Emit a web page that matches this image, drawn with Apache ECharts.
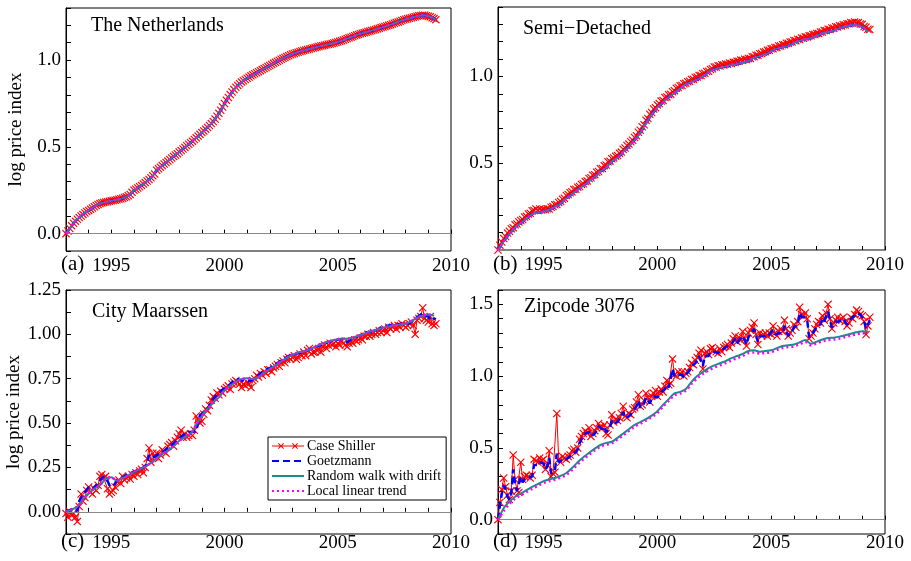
<!DOCTYPE html>
<html>
<head>
<meta charset="utf-8">
<script src="https://cdn.jsdelivr.net/npm/echarts@6/dist/echarts.min.js"></script>
<style>
html, body { margin: 0; padding: 0; background: #fff; }
#chart { width: 911px; height: 561px; }
</style>
</head>
<body>
<div id="chart"></div>
<script>
// monthly series start Jan 1993, quarterly ones too
var startYear = 1993;

// (a) The Netherlands - all four estimates coincide
var aCs = [
  0.000,0.015,0.030,0.045,0.060,0.072,0.083,0.093,0.102,0.111,0.119,0.127,
  0.134,0.141,0.148,0.155,0.162,0.168,0.173,0.177,0.180,0.182,0.184,0.187,
  0.189,0.191,0.193,0.195,0.198,0.201,0.204,0.208,0.212,0.218,0.226,0.238,
  0.250,0.256,0.263,0.270,0.278,0.286,0.294,0.303,0.312,0.322,0.333,0.344,
  0.365,0.374,0.383,0.392,0.401,0.410,0.418,0.427,0.436,0.445,0.453,0.461,
  0.470,0.479,0.488,0.497,0.506,0.515,0.524,0.533,0.542,0.552,0.562,0.572,
  0.582,0.592,0.602,0.612,0.623,0.634,0.646,0.660,0.676,0.693,0.711,0.730,
  0.750,0.768,0.785,0.801,0.816,0.830,0.843,0.854,0.864,0.873,0.881,0.888,
  0.895,0.902,0.909,0.915,0.921,0.927,0.933,0.939,0.945,0.951,0.957,0.963,
  0.969,0.975,0.981,0.987,0.993,0.999,1.005,1.010,1.015,1.020,1.025,1.030,
  1.035,1.038,1.042,1.045,1.049,1.052,1.055,1.058,1.061,1.064,1.067,1.070,
  1.073,1.076,1.078,1.081,1.083,1.086,1.088,1.091,1.093,1.096,1.098,1.101,
  1.104,1.108,1.112,1.116,1.120,1.124,1.128,1.132,1.136,1.140,1.144,1.148,
  1.152,1.155,1.158,1.161,1.164,1.167,1.170,1.173,1.176,1.180,1.184,1.187,
  1.190,1.193,1.197,1.200,1.204,1.208,1.212,1.216,1.220,1.224,1.228,1.232,
  1.235,1.238,1.241,1.244,1.247,1.250,1.253,1.255,1.257,1.258,1.258,1.256,
  1.253,1.249,1.244,1.239,1.233
];

// (b) Semi-Detached
var bCs = [
  0.000,0.028,0.046,0.066,0.078,0.098,0.108,0.122,0.128,0.145,0.150,0.162,
  0.170,0.176,0.190,0.194,0.208,0.212,0.226,0.228,0.236,0.228,0.236,0.230,
  0.234,0.232,0.238,0.236,0.246,0.250,0.260,0.262,0.274,0.280,0.292,0.298,
  0.314,0.320,0.330,0.335,0.348,0.350,0.362,0.366,0.378,0.382,0.394,0.398,
  0.412,0.416,0.430,0.434,0.448,0.452,0.468,0.470,0.486,0.490,0.508,0.512,
  0.526,0.530,0.540,0.544,0.558,0.564,0.580,0.588,0.602,0.610,0.624,0.632,
  0.648,0.658,0.678,0.690,0.710,0.722,0.748,0.758,0.782,0.792,0.812,0.820,
  0.836,0.844,0.858,0.862,0.878,0.882,0.894,0.898,0.912,0.918,0.932,0.936,
  0.946,0.948,0.958,0.960,0.970,0.972,0.982,0.984,0.994,0.996,1.006,1.006,
  1.015,1.018,1.028,1.030,1.040,1.044,1.054,1.054,1.062,1.060,1.068,1.066,
  1.072,1.070,1.077,1.075,1.082,1.081,1.088,1.087,1.094,1.092,1.099,1.097,
  1.104,1.104,1.113,1.113,1.122,1.122,1.131,1.132,1.141,1.142,1.151,1.151,
  1.159,1.159,1.167,1.167,1.175,1.175,1.183,1.183,1.191,1.191,1.199,1.199,
  1.207,1.206,1.214,1.213,1.221,1.220,1.228,1.227,1.235,1.234,1.242,1.241,
  1.248,1.248,1.256,1.256,1.264,1.264,1.272,1.271,1.279,1.278,1.286,1.285,
  1.292,1.291,1.298,1.297,1.304,1.303,1.310,1.308,1.314,1.309,1.310,1.302,
  1.300,1.288,1.284,1.272,1.270
];
var bTrend = [
  0.000,0.050,0.092,0.128, 0.155,0.180,0.207,0.216, 0.220,0.232,0.248,0.268,
  0.298,0.320,0.348,0.370, 0.396,0.420,0.452,0.474, 0.510,0.530,0.565,0.595,
  0.633,0.675,0.730,0.778, 0.820,0.850,0.880,0.903, 0.930,0.955,0.968,0.982,
  1.000,1.025,1.040,1.050, 1.057,1.065,1.072,1.080, 1.089,1.107,1.117,1.127,
  1.144,1.160,1.168,1.176, 1.192,1.206,1.213,1.220, 1.233,1.249,1.256,1.264,
  1.277,1.288,1.295,1.297, 1.285,1.258
];

// (c) City Maarssen
var cCs = [
  -0.010,-0.030,0.000,-0.020,-0.010,-0.030,-0.055,0.030,0.100,0.060,0.080,0.120,
  0.140,0.110,0.100,0.130,0.120,0.150,0.200,0.210,0.190,0.200,0.130,0.100,
  0.110,0.120,0.140,0.170,0.180,0.160,0.200,0.180,0.190,0.200,0.185,0.210,
  0.200,0.220,0.210,0.230,0.240,0.220,0.250,0.300,0.360,0.280,0.330,0.310,
  0.330,0.300,0.320,0.350,0.340,0.330,0.370,0.380,0.390,0.370,0.400,0.420,
  0.440,0.460,0.420,0.440,0.420,0.430,0.440,0.430,0.460,0.540,0.520,0.500,
  0.510,0.550,0.580,0.570,0.600,0.630,0.650,0.640,0.670,0.660,0.680,0.670,
  0.690,0.700,0.710,0.690,0.720,0.730,0.740,0.730,0.720,0.700,0.720,0.710,
  0.730,0.720,0.700,0.740,0.750,0.770,0.760,0.780,0.770,0.790,0.780,0.800,
  0.800,0.790,0.810,0.820,0.830,0.820,0.840,0.850,0.840,0.860,0.870,0.860,
  0.870,0.880,0.860,0.870,0.890,0.880,0.900,0.880,0.910,0.920,0.890,0.900,
  0.900,0.910,0.920,0.900,0.930,0.940,0.920,0.940,0.950,0.940,0.950,0.930,
  0.950,0.940,0.960,0.950,0.940,0.930,0.950,0.960,0.950,0.970,0.960,0.970,
  0.980,0.970,0.990,0.990,1.000,0.990,1.000,1.010,1.000,1.010,1.020,1.010,
  1.020,1.030,1.010,1.040,1.030,1.040,1.050,1.030,1.050,1.040,1.060,1.050,
  1.040,1.050,1.060,1.070,1.050,1.000,1.080,1.090,1.100,1.150,1.090,1.080,
  1.070,1.100,1.060,1.050,1.060
];
var cGz = [
  0.000,0.005,0.010,0.015,0.020,0.022,0.005,0.060,0.080,0.095,0.110,0.125,
  0.140,0.135,0.128,0.130,0.150,0.165,0.180,0.190,0.200,0.195,0.175,0.150,
  0.140,0.145,0.160,0.180,0.190,0.188,0.195,0.200,0.205,0.212,0.220,0.222,
  0.225,0.230,0.236,0.240,0.245,0.250,0.258,0.270,0.320,0.305,0.300,0.310,
  0.320,0.325,0.330,0.335,0.345,0.352,0.360,0.368,0.376,0.385,0.395,0.405,
  0.415,0.425,0.432,0.440,0.448,0.450,0.450,0.450,0.452,0.455,0.500,0.545,
  0.555,0.560,0.568,0.580,0.600,0.620,0.635,0.650,0.660,0.670,0.680,0.690,
  0.695,0.700,0.710,0.720,0.730,0.740,0.745,0.748,0.745,0.740,0.740,0.742,
  0.745,0.735,0.738,0.745,0.755,0.760,0.770,0.780,0.790,0.795,0.800,0.805,
  0.810,0.815,0.822,0.830,0.838,0.845,0.852,0.860,0.866,0.872,0.878,0.883,
  0.885,0.888,0.890,0.893,0.896,0.900,0.895,0.905,0.910,0.915,0.920,0.925,
  0.928,0.932,0.936,0.940,0.944,0.948,0.952,0.956,0.960,0.963,0.966,0.968,
  0.970,0.972,0.974,0.975,0.970,0.955,0.960,0.972,0.978,0.982,0.985,0.990,
  0.995,1.000,1.005,1.010,1.015,1.015,1.010,1.012,1.020,1.028,1.035,1.040,
  1.042,1.045,1.048,1.050,1.052,1.054,1.055,1.056,1.057,1.058,1.059,1.060,
  1.060,1.058,1.062,1.070,1.080,1.090,1.098,1.103,1.105,1.120,1.108,1.105,
  1.100,1.080,1.075,1.090,1.085
];
var cRw = [
  0.000,0.012,0.030,0.070, 0.105,0.130,0.150,0.185, 0.195,0.175,0.190,0.205,
  0.225,0.240,0.255,0.275, 0.300,0.325,0.345,0.370, 0.400,0.420,0.440,0.490,
  0.540,0.580,0.615,0.645, 0.685,0.710,0.732,0.748, 0.752,0.748,0.760,0.785,
  0.805,0.825,0.848,0.868, 0.885,0.897,0.905,0.915, 0.930,0.945,0.955,0.965,
  0.972,0.975,0.977,0.985, 0.995,1.008,1.018,1.028, 1.038,1.045,1.052,1.056,
  1.060,1.075,1.093,1.105, 1.112,1.105
];

// (d) Zipcode 3076
var dCs = [
  0.000,0.120,0.210,0.290,0.230,0.170,0.140,0.200,0.450,0.280,0.200,0.190,
  0.400,0.280,0.300,0.310,0.300,0.290,0.310,0.420,0.410,0.400,0.430,0.410,
  0.420,0.350,0.380,0.480,0.300,0.320,0.330,0.740,0.420,0.400,0.440,0.430,
  0.420,0.440,0.450,0.480,0.490,0.470,0.500,0.560,0.580,0.600,0.620,0.600,
  0.640,0.580,0.600,0.620,0.640,0.670,0.650,0.640,0.660,0.600,0.590,0.660,
  0.730,0.680,0.700,0.690,0.710,0.740,0.790,0.720,0.710,0.740,0.730,0.770,
  0.780,0.820,0.870,0.790,0.800,0.830,0.880,0.850,0.820,0.860,0.880,0.900,
  0.860,0.890,0.910,0.890,0.930,0.970,0.940,0.950,1.120,1.010,1.000,1.030,
  1.010,1.030,1.000,1.020,1.030,1.060,1.090,1.080,1.110,1.130,1.160,1.180,
  1.050,1.160,1.170,1.150,1.190,1.200,1.180,1.170,1.160,1.190,1.170,1.200,
  1.210,1.220,1.200,1.230,1.260,1.280,1.240,1.270,1.250,1.310,1.260,1.210,
  1.300,1.320,1.340,1.370,1.290,1.220,1.300,1.280,1.290,1.300,1.280,1.300,
  1.290,1.350,1.300,1.280,1.310,1.330,1.310,1.390,1.330,1.280,1.300,1.320,
  1.360,1.340,1.380,1.480,1.430,1.420,1.440,1.400,1.260,1.280,1.300,1.330,
  1.360,1.380,1.370,1.420,1.390,1.440,1.500,1.400,1.330,1.370,1.390,1.410,
  1.390,1.400,1.410,1.380,1.350,1.370,1.410,1.400,1.430,1.460,1.450,1.430,
  1.420,1.380,1.290,1.350,1.410
];
var dGz = [
  0.000,0.100,0.180,0.240,0.210,0.160,0.140,0.180,0.350,0.250,0.200,0.190,
  0.300,0.260,0.280,0.290,0.290,0.290,0.300,0.380,0.390,0.380,0.400,0.390,
  0.390,0.350,0.370,0.430,0.320,0.330,0.340,0.460,0.400,0.390,0.420,0.420,
  0.420,0.430,0.440,0.460,0.470,0.470,0.490,0.530,0.560,0.580,0.600,0.590,
  0.610,0.580,0.590,0.600,0.620,0.650,0.640,0.630,0.650,0.610,0.600,0.640,
  0.690,0.670,0.680,0.680,0.700,0.720,0.750,0.710,0.700,0.720,0.720,0.750,
  0.760,0.790,0.830,0.780,0.790,0.810,0.850,0.830,0.810,0.840,0.860,0.870,
  0.850,0.870,0.890,0.880,0.910,0.940,0.920,0.930,1.050,1.000,0.990,1.010,
  1.000,1.010,0.990,1.010,1.020,1.040,1.070,1.070,1.090,1.110,1.140,1.150,
  1.070,1.140,1.150,1.140,1.170,1.180,1.170,1.160,1.160,1.180,1.170,1.190,
  1.200,1.210,1.200,1.220,1.240,1.260,1.230,1.250,1.240,1.280,1.250,1.220,
  1.270,1.290,1.310,1.330,1.280,1.240,1.280,1.270,1.280,1.280,1.270,1.290,
  1.280,1.320,1.290,1.280,1.300,1.310,1.300,1.350,1.310,1.280,1.290,1.310,
  1.340,1.330,1.360,1.440,1.410,1.400,1.410,1.390,1.270,1.280,1.300,1.320,
  1.350,1.360,1.360,1.400,1.380,1.420,1.450,1.390,1.340,1.360,1.380,1.390,
  1.380,1.390,1.400,1.380,1.360,1.370,1.400,1.400,1.420,1.440,1.440,1.430,
  1.410,1.380,1.330,1.340,1.390
];
var dRw = [
  0.000,0.080,0.125,0.160, 0.183,0.205,0.228,0.248, 0.268,0.280,0.290,0.305,
  0.325,0.360,0.400,0.435, 0.465,0.495,0.520,0.535, 0.543,0.570,0.600,0.630,
  0.660,0.680,0.700,0.725, 0.755,0.800,0.840,0.880, 0.890,0.910,0.960,1.000,
  1.030,1.055,1.075,1.090, 1.105,1.125,1.140,1.155, 1.175,1.180,1.170,1.175,
  1.180,1.195,1.210,1.215, 1.220,1.235,1.252,1.225, 1.240,1.255,1.265,1.268,
  1.275,1.285,1.295,1.305, 1.312,1.310
];
var dLlt = [
  0.000,0.060,0.110,0.145, 0.170,0.192,0.215,0.235, 0.255,0.268,0.278,0.292,
  0.312,0.345,0.385,0.420, 0.452,0.482,0.508,0.522, 0.532,0.558,0.588,0.618,
  0.648,0.668,0.690,0.715, 0.742,0.788,0.828,0.866, 0.878,0.898,0.945,0.985,
  1.015,1.040,1.060,1.075, 1.090,1.110,1.125,1.140, 1.160,1.165,1.158,1.162,
  1.168,1.182,1.196,1.202, 1.207,1.222,1.238,1.214, 1.228,1.242,1.252,1.255,
  1.262,1.272,1.282,1.292, 1.298,1.296
];

var panelTitles = ['The Netherlands', 'Semi\u2212Detached', 'City Maarssen', 'Zipcode 3076'];
var panelTags = ['(a)', '(b)', '(c)', '(d)'];
var seriesNames = ['Case Shiller', 'Goetzmann', 'Random walk with drift', 'Local linear trend'];

var FONT = '"Liberation Serif", "Times New Roman", serif';
var crossPath = 'path://M0,1L1,0L5,4L9,0L10,1L6,5L10,9L9,10L5,6L1,10L0,9L4,5Z';
// legend sample for Case Shiller: line with two crosses
var csLegendIcon = 'path://M0,0L0.01,0L0,0.01Z M32,10L31.99,10L32,9.99Z' +
  'M0,4.5L32,4.5L32,5.5L0,5.5Z' +
  'M6,2.7L6.7,2L9,4.3L11.3,2L12,2.7L9.7,5L12,7.3L11.3,8L9,5.7L6.7,8L6,7.3L8.3,5Z' +
  'M20,2.7L20.7,2L23,4.3L25.3,2L26,2.7L23.7,5L26,7.3L25.3,8L23,5.7L20.7,8L20,7.3L22.3,5Z';

function monthly(vals) {
  return vals.map(function(v, i) { return [startYear + i / 12, v]; });
}
function quarterly(vals) {
  return vals.map(function(v, i) { return [startYear + i / 4, v]; });
}

var grids = [
  {left: 66, top: 8, width: 385, height: 243},
  {left: 498, top: 7, width: 387, height: 243},
  {left: 66, top: 290, width: 385, height: 244},
  {left: 498, top: 290, width: 387, height: 244}
];
var yRanges = [
  {min: -0.1, max: 1.3, interval: 0.1, every: 5, dec: 1},
  {min: 0, max: 1.4, interval: 0.1, every: 5, dec: 1, skipMin: true},
  {min: -0.125, max: 1.25, interval: 0.125, every: 2, dec: 2},
  {min: -0.1, max: 1.6, interval: 0.1, every: 5, dec: 1}
];
var xMargins = [6, 6, 0, 0];

var zeroLine = {
  silent: true,
  symbol: 'none',
  label: {show: false},
  lineStyle: {color: '#888', width: 1, type: 'solid'},
  data: [{yAxis: 0}]
};

var xAxes = grids.map(function(g, i) {
  return {
    type: 'value', gridIndex: i, min: 1993, max: 2010, interval: 1,
    axisLine: {lineStyle: {color: '#000', width: 1}},
    axisTick: {inside: true, length: 4, lineStyle: {color: '#000'}},
    splitLine: {show: false},
    axisLabel: {
      color: '#000', fontFamily: FONT, fontSize: 19, margin: xMargins[i],
      showMinLabel: false,
      formatter: function(v) { return Math.round(v) % 5 === 0 ? String(Math.round(v)) : ''; }
    }
  };
});

var yAxes = yRanges.map(function(r, i) {
  return {
    type: 'value', gridIndex: i, min: r.min, max: r.max, interval: r.interval,
    name: (i === 0 || i === 2) ? 'log price index' : '',
    nameLocation: 'middle', nameGap: 40,
    nameTextStyle: {color: '#000', fontFamily: FONT, fontSize: 19},
    axisLine: {lineStyle: {color: '#000', width: 1}},
    axisTick: {inside: true, length: 5, lineStyle: {color: '#000'}},
    splitLine: {show: false},
    axisLabel: {
      color: '#000', fontFamily: FONT, fontSize: 19, margin: 5,
      formatter: function(v) {
        var k = Math.round(v / r.interval);
        if (k % r.every !== 0) return '';
        if (r.skipMin && k === 0) return '';
        return Math.abs(v) < 1e-9 ? (0).toFixed(r.dec) : v.toFixed(r.dec);
      }
    }
  };
});

function csSeries(i, vals) {
  return {
    name: seriesNames[0], type: 'line', xAxisIndex: i, yAxisIndex: i,
    data: monthly(vals), symbol: crossPath, symbolSize: 8, showAllSymbol: true,
    lineStyle: {color: '#ff0000', width: 1}, itemStyle: {color: '#ff0000'},
    markLine: zeroLine, z: 2
  };
}
function lineSeries(i, k, data, style) {
  return {
    name: seriesNames[k], type: 'line', xAxisIndex: i, yAxisIndex: i,
    data: data, symbol: 'none', showSymbol: false,
    smooth: style.smooth || false,
    lineStyle: {color: style.color, width: style.width, type: style.type},
    itemStyle: {color: style.color}, z: 2 + k
  };
}
var gzStyle = {color: '#0000ff', width: 2.5, type: [7, 4]};
var rwStyle = {color: '#1a8c8c', width: 2, type: 'solid'};
var lltStyle = {color: '#ff00ff', width: 2.5, type: [2, 3]};

var series = [
  // (c) first so the legend picks up its styles
  csSeries(2, cCs),
  lineSeries(2, 1, monthly(cGz), gzStyle),
  lineSeries(2, 2, quarterly(cRw), Object.assign({smooth: 0.3}, rwStyle)),
  lineSeries(2, 3, quarterly(cRw), Object.assign({smooth: 0.3}, lltStyle)),

  csSeries(0, aCs),
  lineSeries(0, 1, monthly(aCs), gzStyle),
  lineSeries(0, 2, monthly(aCs), rwStyle),
  lineSeries(0, 3, monthly(aCs), lltStyle),

  csSeries(1, bCs),
  lineSeries(1, 1, quarterly(bTrend), Object.assign({smooth: 0.3}, gzStyle)),
  lineSeries(1, 2, quarterly(bTrend), Object.assign({smooth: 0.3}, rwStyle)),
  lineSeries(1, 3, quarterly(bTrend), Object.assign({smooth: 0.3}, lltStyle)),

  csSeries(3, dCs),
  lineSeries(3, 1, monthly(dGz), gzStyle),
  lineSeries(3, 2, quarterly(dRw), Object.assign({smooth: 0.3}, rwStyle)),
  lineSeries(3, 3, quarterly(dLlt), Object.assign({smooth: 0.3}, lltStyle))
];

var titlePos = [[91, 27], [523, 30], [92, 313], [524, 308]];
var tagPos = [[61, 266], [493, 266], [61, 543], [493, 543]];
var graphics = [];
panelTitles.forEach(function(t, i) {
  graphics.push({
    type: 'text', left: titlePos[i][0], top: titlePos[i][1] - 11,
    style: {text: t, fill: '#000', font: '20px ' + FONT}
  });
  graphics.push({
    type: 'text', left: tagPos[i][0], top: tagPos[i][1] - 12,
    style: {text: panelTags[i], fill: '#000', font: '21px ' + FONT}
  });
});

var chart = echarts.init(document.getElementById('chart'), null, {renderer: 'canvas'});
chart.setOption({
  animation: false,
  backgroundColor: '#fff',
  grid: grids.map(function(g) {
    return Object.assign({show: true, borderColor: '#000', borderWidth: 1, backgroundColor: 'transparent'}, g);
  }),
  xAxis: xAxes,
  yAxis: yAxes,
  legend: {
    orient: 'vertical', left: 268, top: 437,
    itemWidth: 32, itemHeight: 10, itemGap: 1,
    padding: [2, 5, 2, 3],
    borderColor: '#000', borderWidth: 1, backgroundColor: '#fff',
    selectedMode: false,
    textStyle: {color: '#000', fontFamily: FONT, fontSize: 14, padding: [0, 0, 0, -2]},
    data: [
      {name: seriesNames[0], icon: csLegendIcon},
      {name: seriesNames[1], itemStyle: {opacity: 0}},
      {name: seriesNames[2], itemStyle: {opacity: 0}},
      {name: seriesNames[3], itemStyle: {opacity: 0}}
    ]
  },
  graphic: graphics,
  series: series
});
</script>
</body>
</html>
